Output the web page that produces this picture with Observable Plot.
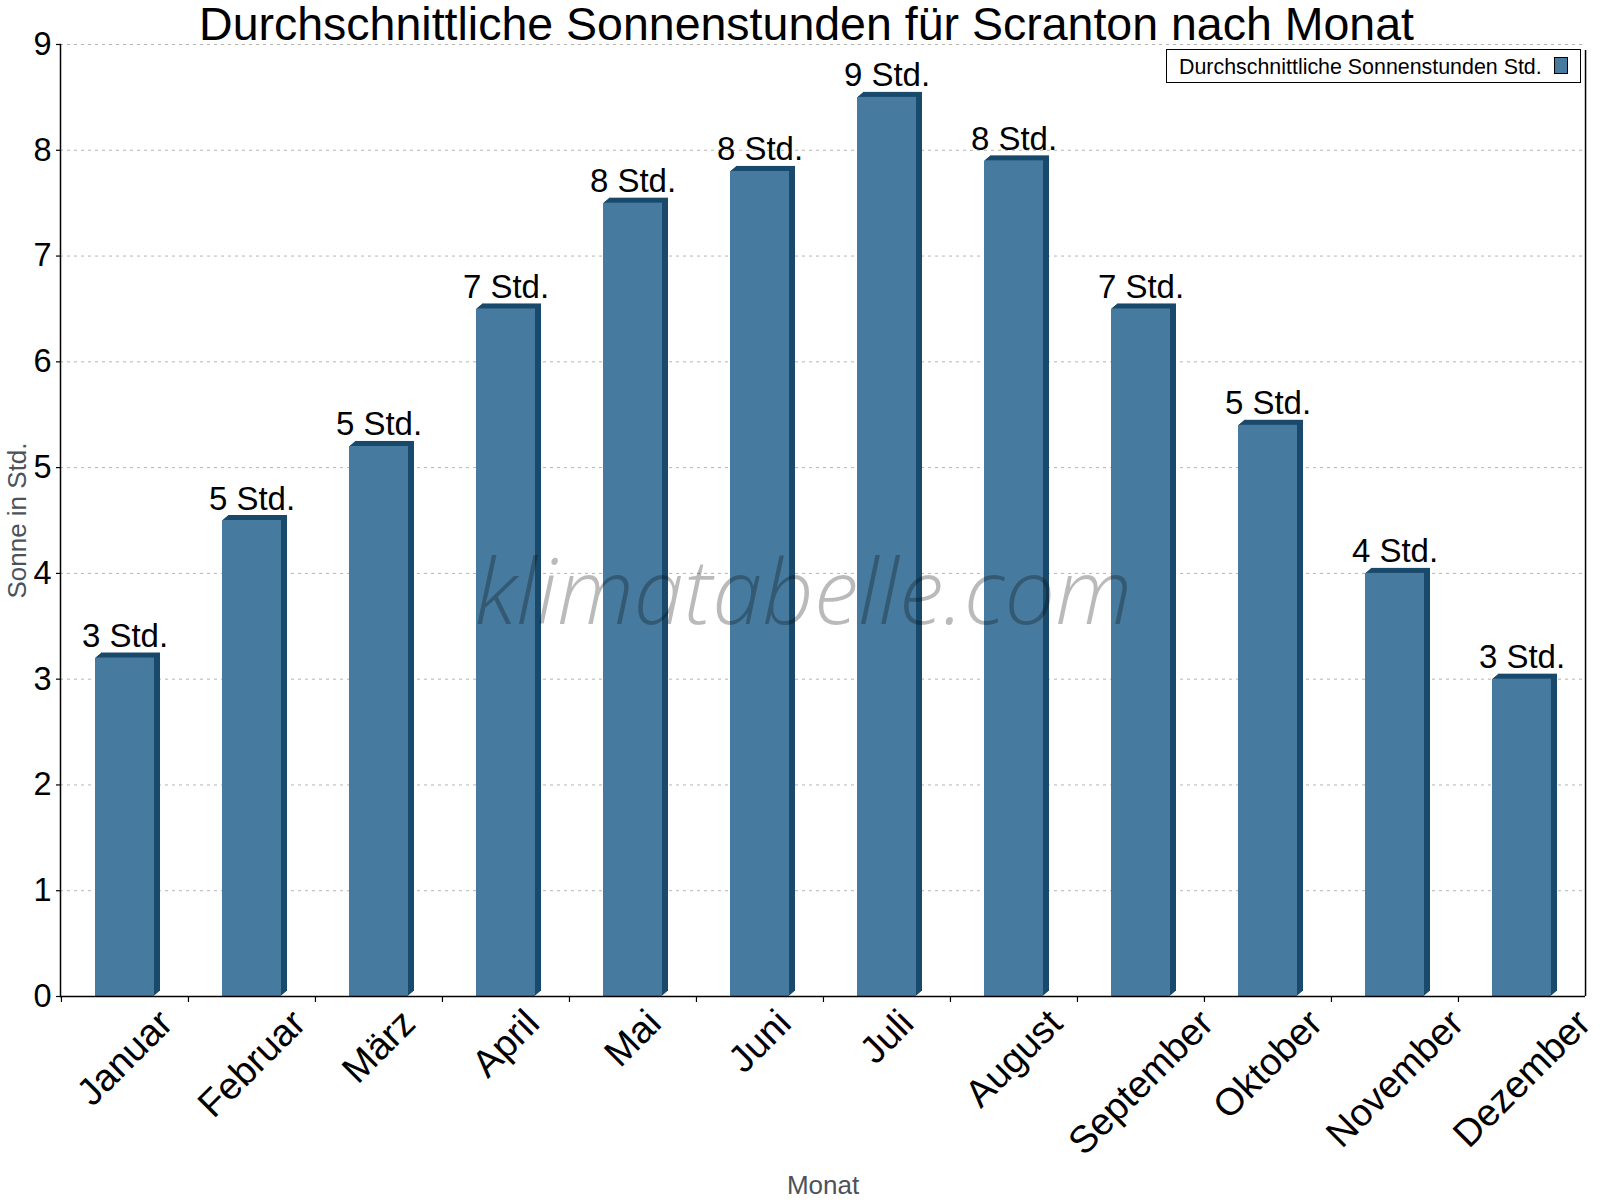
<!DOCTYPE html>
<html>
<head>
<meta charset="utf-8">
<script src="https://cdn.jsdelivr.net/npm/d3@7"></script>
<script src="https://cdn.jsdelivr.net/npm/@observablehq/plot@0.6"></script>
<style>
  html, body { margin: 0; padding: 0; background: white; }
  #wrap { position: relative; width: 1600px; height: 1200px; font-family: "Liberation Sans", Arial, sans-serif; }
  #legend { position: absolute; left: 1166px; top: 49px; width: 415px; height: 34px; border: 1.5px solid black; box-sizing: border-box; background: white; }
  #legend .txt { position: absolute; left: 12px; top: 6.5px; font-size: 21.4px; line-height: 21px; color: black; white-space: nowrap; }
  #legend .sw { position: absolute; left: 387px; top: 6.5px; width: 14px; height: 17px; border: 1.5px solid black; box-sizing: border-box; background: #467a9e; }
</style>
</head>
<body>
<div id="wrap"></div>
<script>
const months = ["Januar", "Februar", "März", "April", "Mai", "Juni", "Juli", "August", "September", "Oktober", "November", "Dezember"];
const sunHours = [3.2, 4.5, 5.2, 6.5, 7.5, 7.8, 8.5, 7.9, 6.5, 5.4, 4.0, 3.0];
const valueLabels = ["3 Std.", "5 Std.", "5 Std.", "7 Std.", "8 Std.", "8 Std.", "9 Std.", "8 Std.", "7 Std.", "5 Std.", "4 Std.", "3 Std."];
const yTicks = [0, 1, 2, 3, 4, 5, 6, 7, 8, 9];
const gridTicks = [1, 2, 3, 4, 5, 6, 7, 8, 9];
const titleText = "Durchschnittliche Sonnenstunden für Scranton nach Monat";
const xLabel = "Monat";
const yLabel = "Sonne in Std.";
const legendLabel = "Durchschnittliche Sonnenstunden Std.";
const watermark = "klimatabelle.com";

const data = months.map((m, i) => ({month: m, value: sunHours[i], label: valueLabels[i]}));

const FONT = "'Liberation Sans', Arial, sans-serif";
const front = "#467a9e";
const dark = "#1a4a6b";
const W = 1600, H = 1200, mL = 60, mR = 15, mT = 44, mB = 204;
const step = (W - mL - mR) / months.length;
const bandFrac = 59 / step;
const pIn = 1 - bandFrac;

// depth layers for 3D effect
const depthMarks = [];
for (let k = 6; k >= 1; k--) {
  depthMarks.push(Plot.barY(data, {x: "month", y: "value", fill: dark, dx: k, dy: -k * 5 / 6}));
}

// rotated x tick labels, bounding box centred on the band
const ctx = document.createElement("canvas").getContext("2d");
const xf = 38;
ctx.font = `${xf}px 'Liberation Sans'`;
const xLabelMarks = months.map(m => {
  const w = ctx.measureText(m).width;
  const h = 0.7071 * (w + 0.55 * xf);
  return Plot.text([m], {x: d => d, frameAnchor: "bottom", rotate: -45, textAnchor: "middle", lineAnchor: "middle",
    dy: 13 + h / 2, fontSize: xf, fill: "black"});
});

const chart = Plot.plot({
  width: W, height: H,
  marginLeft: mL, marginRight: mR, marginTop: mT, marginBottom: mB,
  style: {fontFamily: FONT, background: "white", overflow: "visible"},
  x: {domain: months, paddingInner: pIn, paddingOuter: pIn / 2, axis: null},
  y: {domain: [0, 9], axis: null},
  marks: [
    Plot.gridY(gridTicks, {stroke: "#b4b4b4", strokeOpacity: 1, strokeDasharray: "3,4"}),
    ...depthMarks,
    Plot.barY(data, {x: "month", y: "value", fill: front}),
    Plot.text([watermark], {frameAnchor: "middle", dx: -19.5, dy: 103, lineAnchor: "bottom", fontSize: 90,
      fontStyle: "italic", fontWeight: 300, fontFamily: "'Open Sans'", fill: "black", fillOpacity: 0.27}),
    Plot.frame({anchor: "left", stroke: "black", strokeWidth: 1.5}),
    Plot.ruleY([0], {stroke: "black", strokeWidth: 1.5}),
    Plot.ruleX(months, {x: d => d, y1: 0, y2: 0, dx: -step / 2, insetBottom: -6, stroke: "black", strokeWidth: 1.2}),
    Plot.ruleX([months[months.length - 1]], {x: d => d, y1: 0, y2: 9, dx: step / 2, insetBottom: -6, stroke: "black", strokeWidth: 1.5}),
    Plot.axisY(yTicks, {tickSize: 4, tickPadding: 5, fontSize: 32.5, color: "black", label: null, strokeWidth: 1.2,
      tickFormat: d => String(d)}),
    Plot.text(data, {x: "month", y: "value", text: "label", dy: -11, lineAnchor: "bottom", fontSize: 33, fill: "black"}),
    ...xLabelMarks,
    Plot.text([titleText], {frameAnchor: "top", dx: -16.5, dy: -5, lineAnchor: "bottom", fontSize: 46.5, fill: "black"}),
    Plot.text([xLabel], {frameAnchor: "bottom", dy: 197, lineAnchor: "bottom", fontSize: 26, fill: "#4b525a"}),
    Plot.text([yLabel], {frameAnchor: "left", dx: -35, rotate: -90, textAnchor: "middle", lineAnchor: "bottom", fontSize: 26, fill: "#4b525a"})
  ]
});

const wrap = document.getElementById("wrap");
wrap.appendChild(chart);
const legend = document.createElement("div");
legend.id = "legend";
legend.innerHTML = `<span class="txt"></span><span class="sw"></span>`;
legend.querySelector(".txt").textContent = legendLabel;
wrap.appendChild(legend);
</script>
</body>
</html>
